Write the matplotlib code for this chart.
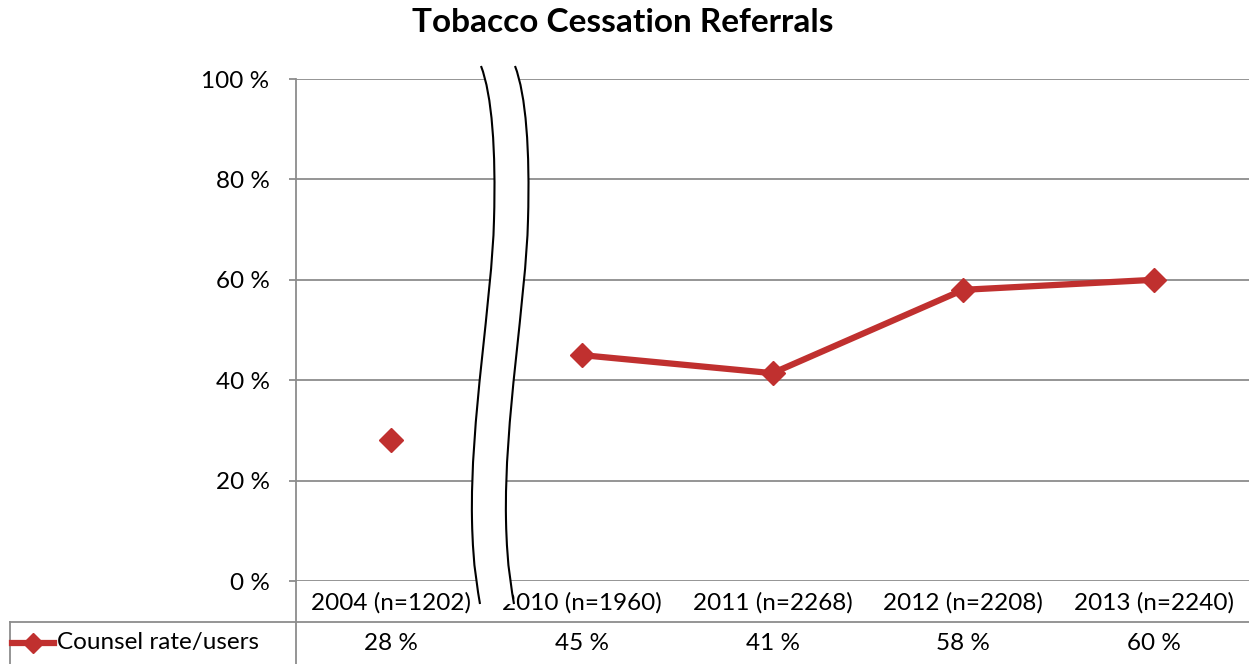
import matplotlib.pyplot as plt
from matplotlib.path import Path
from matplotlib.patches import PathPatch
import numpy as np

plt.rcParams['font.family'] = ['Lato', 'DejaVu Sans']

years = ['2004 (n=1202)', '2010 (n=1960)', '2011 (n=2268)', '2012 (n=2208)', '2013 (n=2240)']
rates = [28, 45, 41.4, 58, 60]
rate_labels = ['28 %', '45 %', '41 %', '58 %', '60 %']
series_name = 'Counsel rate/users'
yticks = [0, 20, 40, 60, 80, 100]

red = '#C0302F'
grid = '#8c8c8c'
W, H = 1249, 664
fs = 17.5

fig = plt.figure(figsize=(W / 100, H / 100), dpi=100)
ax = fig.add_axes([296 / W, (H - 581) / H, 1 - 296 / W, 502 / H])

x = np.arange(len(years))
# 2004 stands alone, the rest is connected
ax.plot(x[:1], rates[:1], color=red, lw=4.5, marker='D', ms=12, zorder=3)
ax.plot(x[1:], rates[1:], color=red, lw=4.5, marker='D', ms=12, zorder=3)

ax.set_xlim(-0.5, len(years) - 0.5)
ax.set_ylim(0, 100)
ax.set_yticks(yticks)
ax.set_yticklabels([f'{t} %' for t in yticks], fontsize=fs)
ax.yaxis.grid(True, color=grid, lw=1.3)
ax.set_axisbelow(True)
ax.tick_params(axis='y', length=5, color=grid, width=1.3, pad=14)
ax.set_xticks(x)
ax.set_xticklabels(years, fontsize=fs)
ax.tick_params(axis='x', length=0, pad=8)
for s in ['top', 'right', 'bottom']:
    ax.spines[s].set_visible(False)
ax.spines['left'].set_color(grid)
ax.spines['left'].set_linewidth(1.3)


# data table below the axis
def fx(px):
    return px / W

def fy(py):
    return 1 - py / H

fig.text(fx(623), fy(23), 'Tobacco Cessation Referrals', fontsize=24, fontweight='bold',
         ha='center', va='center')

fig.add_artist(plt.Line2D([fx(10), 1], [fy(622), fy(622)], color=grid, lw=1.3))
fig.add_artist(plt.Line2D([fx(10), fx(10)], [fy(622), 0], color=grid, lw=1.3))
fig.add_artist(plt.Line2D([fx(296), fx(296)], [fy(581), 0], color=grid, lw=1.3))
fig.add_artist(plt.Line2D([fx(12), fx(54)], [fy(643), fy(643)], color=red, lw=4.5))
fig.add_artist(plt.Line2D([fx(33)], [fy(643)], color=red, marker='D', ms=10))
fig.text(fx(57), fy(643), series_name, fontsize=fs, va='center', ha='left')
for i, lab in enumerate(rate_labels):
    xf = ax.transData.transform((i, 0))[0] / W
    fig.text(xf, fy(643), lab, fontsize=fs, va='center', ha='center')

# axis break
left = [(481, 66), (492, 95), (496, 150), (494, 220), (492, 300), (470, 420), (472, 520),
        (473, 570), (478, 590), (480, 604)]
right = [(px + 34, py) for px, py in left]
codes = [Path.MOVETO] + [Path.CURVE4] * 9
lp = [(fx(a), fy(b)) for a, b in left]
rp = [(fx(a), fy(b)) for a, b in right]
fill = Path(lp + rp[::-1] + [lp[0]],
            [Path.MOVETO] + [Path.CURVE4] * 9 + [Path.LINETO] + [Path.CURVE4] * 9 + [Path.CLOSEPOLY])
fig.add_artist(PathPatch(fill, transform=fig.transFigure, fc='white', ec='none', zorder=5))
fig.add_artist(PathPatch(Path(lp, codes), transform=fig.transFigure, fc='none', ec='black', lw=1.5, zorder=6))
fig.add_artist(PathPatch(Path(rp, codes), transform=fig.transFigure, fc='none', ec='black', lw=1.5, zorder=6))

fig.savefig('out.png', dpi=100)
